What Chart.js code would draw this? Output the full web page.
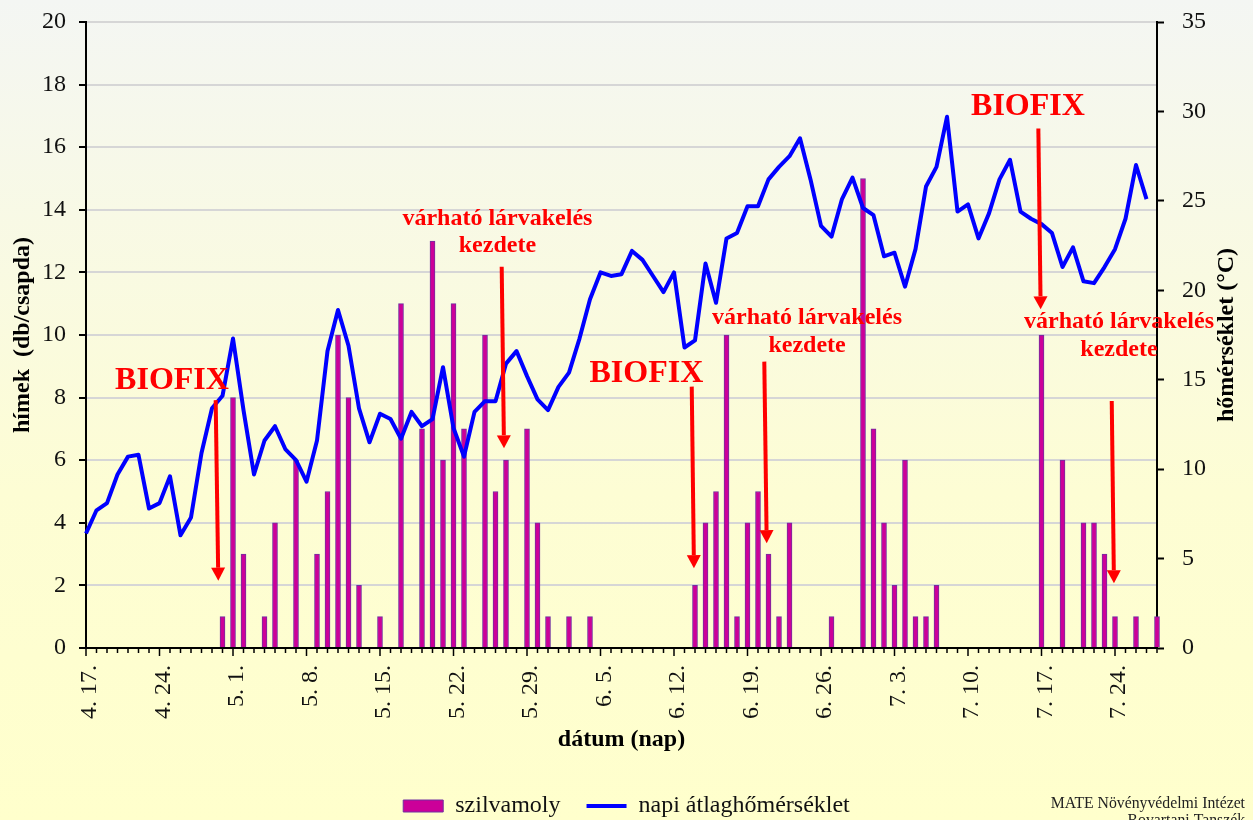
<!DOCTYPE html>
<html lang="hu">
<head>
<meta charset="utf-8">
<title>Szilvamoly rajzás és napi átlaghőmérséklet</title>
<script src="https://cdn.jsdelivr.net/npm/chart.js@4.4.1/dist/chart.umd.min.js"></script>
<style>
  html, body { margin: 0; padding: 0; background: #ffffcc; }
  #chart { display: block; }
</style>
</head>
<body>
<canvas id="chart" width="1253" height="820"></canvas>
<script>
// ═══════════════════════════════════════
//  Szilvamoly csapdafogás + napi átlaghőmérséklet
// ═══════════════════════════════════════

// ── Dátumok (napi kategóriák) ──
const dates = [
  "4. 17.", "4. 18.", "4. 19.", "4. 20.", "4. 21.", "4. 22.", "4. 23.",
  "4. 24.", "4. 25.", "4. 26.", "4. 27.", "4. 28.", "4. 29.", "4. 30.",
  "5. 1.", "5. 2.", "5. 3.", "5. 4.", "5. 5.", "5. 6.", "5. 7.",
  "5. 8.", "5. 9.", "5. 10.", "5. 11.", "5. 12.", "5. 13.", "5. 14.",
  "5. 15.", "5. 16.", "5. 17.", "5. 18.", "5. 19.", "5. 20.", "5. 21.",
  "5. 22.", "5. 23.", "5. 24.", "5. 25.", "5. 26.", "5. 27.", "5. 28.",
  "5. 29.", "5. 30.", "5. 31.", "6. 1.", "6. 2.", "6. 3.", "6. 4.",
  "6. 5.", "6. 6.", "6. 7.", "6. 8.", "6. 9.", "6. 10.", "6. 11.",
  "6. 12.", "6. 13.", "6. 14.", "6. 15.", "6. 16.", "6. 17.", "6. 18.",
  "6. 19.", "6. 20.", "6. 21.", "6. 22.", "6. 23.", "6. 24.", "6. 25.",
  "6. 26.", "6. 27.", "6. 28.", "6. 29.", "6. 30.", "7. 1.", "7. 2.",
  "7. 3.", "7. 4.", "7. 5.", "7. 6.", "7. 7.", "7. 8.", "7. 9.",
  "7. 10.", "7. 11.", "7. 12.", "7. 13.", "7. 14.", "7. 15.", "7. 16.",
  "7. 17.", "7. 18.", "7. 19.", "7. 20.", "7. 21.", "7. 22.", "7. 23.",
  "7. 24.", "7. 25.", "7. 26.", "7. 27.", "7. 28."
];

// ── Hímek száma (db/csapda) ──
const moths = [
  // április 17–30.
  0, 0, 0, 0, 0, 0, 0, 0, 0, 0, 0, 0, 0, 1,
  // május 1–31.
  8, 3, 0, 1, 4, 0, 6, 0, 3, 5, 10, 8, 2, 0, 1, 0,
  11, 0, 7, 13, 6, 11, 7, 0, 10, 5, 6, 0, 7, 4, 1,
  // június 1–30.
  0, 1, 0, 1, 0, 0, 0, 0, 0, 0, 0, 0, 0, 2, 4,
  5, 10, 1, 4, 5, 3, 1, 4, 0, 0, 0, 1, 0, 0, 15,
  // július 1–28.
  7, 4, 2, 6, 1, 1, 2, 0, 0, 0, 0, 0, 0, 0,
  0, 0, 10, 0, 6, 0, 4, 4, 3, 1, 0, 1, 0, 1
];

// ── Napi átlaghőmérséklet (°C) ──
const temps = [
  // április 17–30.
  6.4, 7.7, 8.1, 9.7, 10.7, 10.8, 7.8, 8.1, 9.6, 6.3, 7.3, 10.9, 13.4, 14.1,
  // május 1–31.
  17.3, 13.3, 9.7, 11.6, 12.4, 11.1, 10.5, 9.3, 11.6, 16.6, 18.9, 16.9, 13.4, 11.5, 13.1, 12.8,
  11.7, 13.2, 12.4, 12.8, 15.7, 12.3, 10.7, 13.2, 13.8, 13.8, 15.9, 16.6, 15.2, 13.9, 13.3,
  // június 1–30.
  14.6, 15.4, 17.3, 19.5, 21.0, 20.8, 20.9, 22.2, 21.7, 20.8, 19.9, 21.0, 16.8, 17.2, 21.5,
  19.3, 22.9, 23.2, 24.7, 24.7, 26.2, 26.9, 27.5, 28.5, 26.2, 23.6, 23.0, 25.1, 26.3, 24.6,
  // július 1–28.
  24.2, 21.9, 22.1, 20.2, 22.3, 25.8, 26.9, 29.7, 24.4, 24.8, 22.9, 24.3, 26.2, 27.3,
  24.4, 24.0, 23.7, 23.2, 21.3, 22.4, 20.5, 20.4, 21.3, 22.3, 24.0, 27.0, 25.1, null
];

// ── Tengely-feliratok ──
const leftTicks  = [0, 2, 4, 6, 8, 10, 12, 14, 16, 18, 20];
const rightTicks = [0, 5, 10, 15, 20, 25, 30, 35];

// ── Jelölések (x: nap sorszám, y: hímek tengely) ──
const biofixMarks = [
  { x: 8.19,  y: 8.27 },
  { x: 53.37, y: 8.5 },
  { x: 89.71, y: 17.03 }
];
const larvaMarks = [
  { x: 39.18, y1: 13.51, y2: 12.65 },
  { x: 68.67, y1: 10.35, y2: 9.46 },
  { x: 98.38, y1: 10.22, y2: 9.33 }
];
const arrows = [
  [12.35, 7.92, 12.6, 2.15],
  [39.59, 12.18, 39.81, 6.38],
  [57.69, 8.35, 57.9, 2.55],
  [64.6, 9.15, 64.83, 3.35],
  [90.7, 16.6, 90.92, 10.82],
  [97.69, 7.89, 97.9, 2.07]
];

const SERIF = "'Liberation Serif', 'Times New Roman', serif";

// ── Háttér színátmenet ──
const bgPlugin = {
  id: "bg",
  beforeDraw(chart) {
    const { ctx, width, height } = chart;
    const g = ctx.createLinearGradient(0, 0, 0, height);
    g.addColorStop(0, "#f4f6f3");
    g.addColorStop(0.6, "#fdfdd4");
    g.addColorStop(1, "#ffffcc");
    ctx.save();
    ctx.fillStyle = g;
    ctx.fillRect(0, 0, width, height);
    ctx.restore();
  }
};

// ── X tengely osztásjelei (napi kicsi, heti nagy) ──
const dayTicksPlugin = {
  id: "dayTicks",
  afterDraw(chart) {
    const { ctx, chartArea } = chart;
    const x = chart.scales.x;
    ctx.save();
    ctx.strokeStyle = "#000";
    ctx.lineWidth = 1.5;
    dates.forEach((d, i) => {
      const px = x.getPixelForValue(i);
      const len = i % 7 === 0 ? 8 : 5;
      ctx.beginPath();
      ctx.moveTo(px, chartArea.bottom);
      ctx.lineTo(px, chartArea.bottom + len);
      ctx.stroke();
    });
    ctx.restore();
  }
};

// ── Jobb tengely címe (alulról felfelé) + forrás ──
const textPlugin = {
  id: "texts",
  afterDraw(chart) {
    const { ctx, chartArea } = chart;
    const y1 = chart.scales.y1;
    ctx.save();
    ctx.fillStyle = "#000";
    ctx.font = "bold 24px " + SERIF;
    ctx.textAlign = "center";
    ctx.textBaseline = "middle";
    ctx.translate(y1.left + 70, (chartArea.top + chartArea.bottom) / 2);
    ctx.rotate(-Math.PI / 2);
    ctx.fillText("hőmérséklet (°C)", 0, 0);
    ctx.restore();

    ctx.save();
    ctx.fillStyle = "#222";
    ctx.font = "15.75px " + SERIF;
    ctx.textAlign = "right";
    ctx.textBaseline = "alphabetic";
    ctx.fillText("MATE Növényvédelmi Intézet", 1245, 808);
    ctx.fillText("Rovartani Tanszék", 1245, 825);
    ctx.restore();
  }
};

// ── BIOFIX / lárvakelés nyilak ──
function drawArrow(ctx, x0, y0, x1, y1) {
  const ang = Math.atan2(y1 - y0, x1 - x0);
  const head = 13, half = 7;
  const bx = x1 - head * Math.cos(ang);
  const by = y1 - head * Math.sin(ang);
  ctx.beginPath();
  ctx.moveTo(x0, y0);
  ctx.lineTo(bx, by);
  ctx.stroke();
  ctx.beginPath();
  ctx.moveTo(x1, y1);
  ctx.lineTo(bx + half * Math.sin(ang), by - half * Math.cos(ang));
  ctx.lineTo(bx - half * Math.sin(ang), by + half * Math.cos(ang));
  ctx.closePath();
  ctx.fill();
}

const notesPlugin = {
  id: "notes",
  afterDatasetsDraw(chart) {
    const { ctx } = chart;
    const x = chart.scales.x, y = chart.scales.y;
    ctx.save();
    ctx.fillStyle = "#ff0000";
    ctx.strokeStyle = "#ff0000";
    ctx.lineWidth = 4;
    ctx.textAlign = "center";
    ctx.textBaseline = "alphabetic";

    arrows.forEach(([a, b, c, d]) => {
      drawArrow(ctx, x.getPixelForValue(a), y.getPixelForValue(b),
                     x.getPixelForValue(c), y.getPixelForValue(d));
    });

    ctx.font = "bold 32px " + SERIF;
    biofixMarks.forEach(m => {
      ctx.fillText("BIOFIX", x.getPixelForValue(m.x), y.getPixelForValue(m.y));
    });

    ctx.font = "bold 24px " + SERIF;
    larvaMarks.forEach(m => {
      const px = x.getPixelForValue(m.x);
      ctx.fillText("várható lárvakelés", px, y.getPixelForValue(m.y1));
      ctx.fillText("kezdete", px, y.getPixelForValue(m.y2));
    });
    ctx.restore();
  }
};

// ── Chart ──
Chart.defaults.font.family = SERIF;
Chart.defaults.font.size   = 24;
Chart.defaults.color       = "#111";

const axisBorder = { display: true, color: "#000", width: 2 };

// tengely-címkék ne tolják el a rajzterületet
function noScalePadding(s) {
  s.paddingTop = 0;
  s.paddingBottom = 0;
}

new Chart(document.getElementById("chart"), {
  type: "bar",
  data: {
    labels: dates,
    datasets: [
      {
        type: "bar",
        label: "szilvamoly",
        data: moths,
        yAxisID: "y",
        backgroundColor: "#cc0099",
        borderColor: "#7030a0",
        borderWidth: 1,
        barThickness: 5,
        pointStyle: "rect",
        order: 1,
        clip: 4
      },
      {
        type: "line",
        label: "napi átlaghőmérséklet",
        data: temps,
        yAxisID: "y1",
        borderColor: "#0000ff",
        backgroundColor: "#0000ff",
        borderWidth: 4,
        borderJoinStyle: "round",
        pointRadius: 0,
        tension: 0,
        pointStyle: "line",
        order: 0,
        clip: 4
      }
    ]
  },
  options: {
    responsive: false,
    animation: false,
    layout: { padding: { top: 22, right: 0, bottom: -8, left: 0 } },
    plugins: {
      legend: {
        position: "bottom",
        labels: {
          usePointStyle: true,
          pointStyleWidth: 40,
          boxHeight: 12,
          padding: 26,
          color: "#111",
          font: { size: 24 },
          sort: (a, b) => a.datasetIndex - b.datasetIndex
        }
      },
      tooltip: { enabled: false }
    },
    scales: {
      x: {
        offset: false,
        border: axisBorder,
        grid: { display: true, drawOnChartArea: false, drawTicks: false },
        ticks: {
          autoSkip: false,
          minRotation: 90,
          maxRotation: 90,
          padding: 17,
          labelOffset: 4,
          color: "#111",
          font: { size: 24 },
          callback: (v, i) => (i % 7 === 0 ? dates[i] : "")
        },
        title: {
          display: true,
          text: "dátum (nap)",
          color: "#000",
          font: { size: 24, weight: "bold" },
          padding: { top: 0, bottom: 13.6 }
        },
        afterFit: s => { s.height = 120; }
      },
      y: {
        position: "left",
        min: leftTicks[0],
        max: leftTicks[leftTicks.length - 1],
        border: axisBorder,
        grid: {
          color: c => (c.tick && c.tick.value === 0 ? "rgba(0,0,0,0)" : "#d6d6d6"),
          lineWidth: 2,
          tickColor: "#000",
          tickWidth: 2,
          tickLength: 7
        },
        ticks: { stepSize: leftTicks[1] - leftTicks[0], padding: 13, color: "#111", font: { size: 24 } },
        title: {
          display: true,
          text: "hímek  (db/csapda)",
          color: "#000",
          font: { size: 24, weight: "bold" },
          padding: { top: 8, bottom: 0 }
        },
        afterFit: s => { s.width = 86; noScalePadding(s); }
      },
      y1: {
        position: "right",
        min: rightTicks[0],
        max: rightTicks[rightTicks.length - 1],
        border: axisBorder,
        grid: {
          drawOnChartArea: false,
          tickColor: "#000",
          tickWidth: 2,
          tickLength: 7
        },
        ticks: { stepSize: rightTicks[1] - rightTicks[0], padding: 18, color: "#111", font: { size: 24 } },
        afterFit: s => { s.width = 96; noScalePadding(s); }
      }
    }
  },
  plugins: [bgPlugin, dayTicksPlugin, textPlugin, notesPlugin]
});
</script>
</body>
</html>
